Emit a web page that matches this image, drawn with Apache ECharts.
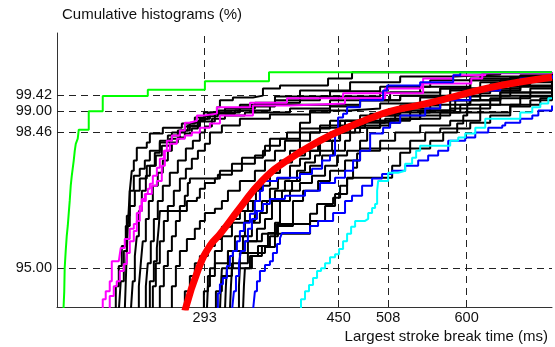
<!DOCTYPE html>
<html>
<head>
<meta charset="utf-8">
<script src="https://cdn.jsdelivr.net/npm/echarts@6/dist/echarts.min.js"></script>
<style>
  html, body { margin: 0; padding: 0; background: #fff; }
  #chart { width: 555px; height: 347px; }
</style>
</head>
<body>
<div id="chart"></div>
<script>
// tick values shown on the axes (dashed guide lines go through them too)
const xTicks = [293, 450, 508, 600]
const yTicks = [95.0, 98.46, 99.0, 99.42]

// [break time (ms), cumulative %]
const green = [[127.5,93.9],[128.5,94.4],[129.0,94.99],[130.2,95.43],[131.4,95.81],[132.6,96.07],[133.7,96.38],[134.9,96.71],[136.1,97.1],[137.3,97.35],[139.6,97.74],[140.8,97.99],[142.0,98.17],[144.3,98.3],[145.5,98.53],[157.2,99.0],[173.6,99.39],[226.4,99.55],[293.3,99.77],[368.4,100],[700,100]]

const red = [[269.8,93.9],[286.2,95.0],[299.1,95.56],[310.9,95.86],[334.3,96.53],[360.1,97.22],[389.4,97.74],[428.2,98.25],[459.8,98.58],[486.9,98.82],[510.3,99.0],[543.2,99.15],[583.1,99.36],[621.8,99.58],[660.5,99.74],[700,99.87]]

const cyan = [[402.4,93.9],[405.9,94.2],[410.6,94.4],[415.3,94.56],[420.0,94.74],[424.7,94.92],[429.4,94.99],[434.1,95.12],[439.9,95.27],[445.8,95.35],[450.5,95.48],[455.2,95.68],[459.9,95.87],[464.6,96.05],[469.3,96.2],[481.0,96.25],[484.6,96.4],[489.2,96.53],[492.7,96.63],[495.1,96.97],[496.3,97.22],[508.0,97.43],[519.7,97.48],[527.9,97.66],[536.1,97.81],[540.8,97.99],[545.5,98.12],[580.7,98.25],[590.1,98.33],[598.3,98.43],[610.1,98.58],[621.8,98.81],[648.8,98.81],[662.8,98.97],[676.9,99.1],[686.3,99.2],[695.7,99.33],[700,99.33]]

const magenta1 = [[170.1,93.9],[173.6,94.2],[177.1,94.4],[181.8,94.66],[184.2,95.17],[192.4,95.22],[194.7,95.51],[199.4,95.74],[205.3,96.0],[210.0,96.12],[213.5,96.4],[217.0,96.58],[219.4,96.76],[222.9,96.89],[226.4,97.02],[228.8,97.15],[232.3,97.35],[237.0,97.56],[240.5,97.79],[245.2,97.99],[248.7,98.25],[254.6,98.38],[264.0,98.51],[269.8,98.71],[275.7,98.76],[283.9,98.89],[292.1,98.94],[307.4,99.1],[346.1,99.22],[389.5,99.33],[455.2,99.46],[549.0,99.84],[584.2,99.92],[621.8,100],[700,100]]
const magenta2 = [[178.3,93.9],[181.8,94.28],[186.5,94.53],[190.0,94.66],[193.6,94.92],[198.3,95.1],[201.8,95.38],[205.3,95.68],[210.0,95.94],[213.5,96.2],[217.0,96.45],[219.4,96.71],[224.1,96.89],[231.1,97.1],[237.0,97.22],[242.8,97.61],[246.4,97.99],[252.2,98.17],[260.4,98.3],[269.8,98.38],[278.0,98.46],[287.4,98.58],[299.2,98.69],[310.9,98.89],[349.6,99.15],[393.0,99.2],[457.5,99.33],[504.5,99.58],[546.7,99.71],[605.4,99.84],[618.3,99.97],[700,100]]

const blue1 = [[349.6,93.9],[351.9,94.4],[354.3,94.66],[357.8,94.92],[363.7,95.07],[369.5,95.17],[373.0,95.38],[377.8,95.61],[381.3,95.76],[383.6,95.89],[414.1,95.89],[416.5,96.07],[425.9,96.2],[443.5,96.4],[457.5,96.71],[465.7,96.84],[477.5,97.1],[489.2,97.28],[500.9,97.4],[512.7,97.48],[527.9,97.61],[543.2,97.74],[554.9,97.87],[566.6,97.99],[578.4,98.25],[598.3,98.33],[610.1,98.46],[625.3,98.58],[641.7,98.64],[645.2,98.71],[662.8,98.81],[676.9,98.89],[684.0,99.02],[700,99.15]]
const blue2 = [[305.0,93.9],[308.5,94.35],[310.9,94.58],[314.4,94.74],[319.1,95.05],[322.6,95.3],[326.1,95.43],[330.8,95.68],[334.3,95.94],[339.0,96.15],[346.1,96.38],[351.9,96.71],[357.8,96.97],[361.3,97.22],[377.8,97.3],[404.7,97.4],[418.8,97.53],[430.6,97.74],[439.9,97.87],[445.8,98.51],[449.3,98.84],[455.2,98.94],[459.9,99.1],[475.1,99.28],[502.1,99.53],[506.8,99.66],[545.5,99.74],[584.2,99.92],[592.5,100],[700,100]]
const blue3 = [[325.0,93.9],[327.3,94.4],[329.7,94.79],[333.2,95.12],[335.5,95.43],[340.2,95.68],[343.7,96.0],[348.4,96.25],[354.3,96.45],[361.3,96.63],[369.5,96.76],[387.1,96.84],[410.6,96.97],[428.2,97.17],[445.8,97.3],[457.5,97.48],[466.9,97.74],[475.1,97.99],[486.9,98.43],[502.1,98.58],[510.3,98.71],[522.1,98.89],[551.4,99.07],[569.0,99.28],[604.2,99.53],[639.4,99.69],[662.8,99.84],[700,99.92]]

const blackRuns = [
  [[199.4,93.9],[200.6,94.66],[201.8,95.43],[203.0,96.07],[205.3,96.97],[207.6,97.48],[210.0,97.74],[213.5,98.07],[225.2,98.2],[228.8,98.43],[244.0,98.58],[266.3,98.69],[281.5,98.84],[292.1,98.97],[334.3,99.17],[375.4,99.38],[404.7,99.53],[463.4,99.74],[522.1,99.89],[586.6,99.94],[639.4,100],[700,100]],
  [[185.4,93.9],[188.9,94.53],[192.4,95.05],[195.9,95.56],[200.6,96.07],[205.3,96.58],[211.2,96.97],[217.0,97.28],[225.2,97.61],[234.6,97.94],[240.5,98.2],[249.9,98.38],[261.6,98.51],[273.3,98.64],[287.4,98.81],[299.2,98.97],[316.8,99.07],[351.9,99.22],[404.7,99.38],[439.9,99.51],[498.6,99.63],[557.3,99.79],[615.9,99.89],[700,99.97]],
  [[192.4,93.9],[194.7,94.66],[198.3,95.43],[201.8,96.33],[205.3,96.97],[210.0,97.35],[217.0,97.53],[222.9,97.74],[228.8,97.99],[240.5,98.25],[254.6,98.46],[269.8,98.61],[287.4,98.74],[305.0,98.94],[328.5,99.02],[369.5,99.17],[439.9,99.28],[510.3,99.48],[569.0,99.58],[604.2,99.79],[662.8,99.92],[700,100]],
  [[213.5,93.9],[215.9,94.53],[218.2,95.12],[220.5,95.68],[224.1,96.25],[227.6,96.71],[232.3,97.1],[238.1,97.43],[244.0,97.74],[249.9,97.99],[254.6,98.2],[261.6,98.33],[269.8,98.43],[278.0,98.56],[285.1,98.76],[293.3,98.87],[308.5,99.02],[334.3,99.12],[375.4,99.28],[428.2,99.38],[498.6,99.48],[545.5,99.63],[604.2,99.84],[700,99.94]],
  [[206.5,93.9],[208.8,94.66],[211.2,95.3],[213.5,95.81],[215.9,96.45],[219.4,96.97],[224.1,97.35],[228.8,97.61],[235.8,97.87],[242.8,98.12],[252.2,98.3],[264.0,98.51],[275.7,98.71],[287.4,98.81],[296.8,98.94],[307.4,99.1],[310.9,99.28],[326.1,99.35],[349.6,99.4],[361.3,99.58],[381.3,99.66],[437.6,99.84],[465.7,100],[700,100]],
  [[221.7,93.9],[224.1,94.53],[226.4,95.12],[229.9,95.68],[233.5,96.25],[238.1,96.71],[244.0,97.1],[252.2,97.43],[261.6,97.74],[271.0,98.05],[279.2,98.25],[287.4,98.46],[293.3,98.61],[301.5,98.81],[316.8,98.89],[340.2,98.97],[393.0,99.07],[439.9,99.17],[475.1,99.28],[522.1,99.4],[569.0,99.58],[615.9,99.74],[651.1,99.87],[700,99.94]],
  [[229.9,93.9],[232.3,94.53],[235.8,95.12],[240.5,95.68],[245.2,96.2],[249.9,96.58],[256.9,96.97],[264.0,97.28],[271.0,97.53],[278.0,97.79],[285.1,97.99],[293.3,98.17],[299.2,98.46],[313.2,98.64],[334.3,98.81],[369.5,98.92],[416.5,99.02],[463.4,99.07],[498.6,99.2],[545.5,99.35],[580.7,99.53],[627.6,99.69],[674.6,99.82],[700,99.89]],
  [[225.2,93.9],[228.8,94.66],[233.5,95.17],[237.0,95.51],[239.3,96.07],[240.5,96.45],[272.2,96.71],[283.9,96.79],[287.4,97.02],[293.3,97.17],[305.0,97.28],[310.9,97.48],[336.7,97.81],[361.3,97.99],[369.5,98.3],[389.5,98.46],[404.7,98.71],[416.5,98.97],[439.9,99.12],[475.1,99.28],[522.1,99.4],[580.7,99.58],[639.4,99.79],[700,99.94]],
  [[248.7,93.9],[254.6,94.53],[259.3,95.05],[264.0,95.43],[272.2,95.74],[281.5,96.0],[287.4,96.2],[293.3,96.4],[305.0,96.51],[313.2,96.71],[320.3,96.97],[334.3,97.22],[351.9,97.48],[363.7,97.74],[375.4,97.99],[387.1,98.25],[404.7,98.46],[428.2,98.64],[457.5,98.76],[498.6,98.89],[533.8,99.07],[569.0,99.28],[615.9,99.53],[662.8,99.74],[700,99.84]],
  [[264.0,93.9],[269.8,94.4],[275.7,94.79],[281.5,95.12],[287.4,95.3],[296.8,95.56],[305.0,95.74],[313.2,96.05],[325.0,96.25],[334.3,96.45],[343.7,96.71],[353.1,96.97],[360.1,97.22],[369.5,97.43],[381.3,97.69],[395.4,97.87],[410.6,97.99],[425.9,98.25],[445.8,98.46],[475.1,98.64],[510.3,98.81],[545.5,98.97],[592.5,99.17],[639.4,99.4],[700,99.66]],
  [[237.0,93.9],[240.5,94.53],[245.2,95.05],[249.9,95.43],[254.6,95.81],[259.3,96.2],[264.0,96.58],[269.8,96.84],[273.3,97.17],[275.7,97.28],[308.5,97.38],[325.0,97.66],[351.9,97.87],[363.7,98.12],[381.3,98.3],[404.7,98.56],[439.9,98.76],[475.1,98.89],[522.1,99.02],[580.7,99.28],[639.4,99.48],[700,99.63]],
  [[295.6,93.9],[296.8,94.53],[299.2,94.99],[305.0,95.43],[313.2,95.81],[325.0,96.15],[340.2,96.45],[349.6,96.71],[357.8,97.1],[369.5,97.43],[381.3,97.74],[393.0,97.99],[404.7,98.25],[416.5,98.46],[428.2,98.58],[451.7,98.76],[486.9,98.94],[522.1,99.15],[569.0,99.38],[615.9,99.58],[662.8,99.79],[700,99.89]],
  [[310.9,93.9],[312.1,94.53],[313.2,94.99],[320.3,95.43],[328.5,95.81],[340.2,96.2],[351.9,96.45],[360.1,96.71],[369.5,97.02],[378.9,97.28],[393.0,97.61],[404.7,97.79],[416.5,97.99],[428.2,98.25],[439.9,98.46],[457.5,98.64],[481.0,98.76],[516.2,98.97],[557.3,99.17],[604.2,99.4],[651.1,99.63],[700,99.79]],
  [[316.8,93.9],[317.9,94.53],[319.1,94.99],[326.1,95.43],[337.9,95.81],[348.4,96.15],[357.8,96.4],[366.0,96.71],[375.4,96.97],[387.1,97.22],[401.2,97.48],[410.6,97.69],[422.3,97.87],[428.2,97.99],[442.3,98.25],[451.7,98.46],[469.3,98.58],[498.6,98.76],[533.8,98.89],[580.7,99.07],[627.6,99.33],[674.6,99.58],[700,99.69]],
  [[322.6,93.9],[323.8,94.53],[325.0,94.99],[334.3,95.38],[343.7,95.68],[354.3,96.0],[363.7,96.25],[371.9,96.71],[383.6,96.97],[395.4,97.22],[404.7,97.43],[416.5,97.61],[430.6,97.87],[443.5,97.99],[457.5,98.25],[463.4,98.58],[481.0,98.71],[504.5,98.81],[545.5,99.02],[586.6,99.28],[639.4,99.48],[700,99.63]],
  [[330.8,93.9],[333.2,94.53],[334.3,94.99],[346.1,95.3],[355.5,95.56],[367.2,95.89],[375.4,96.15],[381.3,96.71],[393.0,96.97],[404.7,97.17],[418.8,97.35],[434.1,97.61],[448.2,97.87],[459.9,97.99],[475.1,98.25],[483.4,98.58],[498.6,98.71],[522.1,98.81],[569.0,98.97],[615.9,99.17],[662.8,99.38],[700,99.53]],
  [[337.9,93.9],[339.0,94.53],[340.2,94.99],[348.4,95.3],[360.1,95.56],[369.5,95.81],[378.9,96.07],[396.5,96.71],[408.3,96.97],[425.9,97.22],[439.9,97.48],[457.5,97.74],[475.1,97.99],[498.6,98.25],[516.2,98.46],[545.5,98.64],[580.7,98.76],[615.9,98.97],[651.1,99.17],[686.3,99.33],[700,99.38]],
  [[287.4,93.9],[292.1,94.4],[296.8,94.79],[305.0,95.12],[320.3,95.43],[340.2,95.68],[360.1,95.87],[377.8,96.12],[416.5,96.38],[424.7,96.63],[443.5,96.79],[451.7,97.1],[459.9,97.28],[466.9,97.56],[471.6,97.92],[475.1,98.05],[557.3,98.25],[572.5,98.46],[588.9,98.69],[596.0,98.89],[600.7,99.2],[604.2,99.46],[627.6,99.53],[662.8,99.66],[700,99.79]],
  [[301.5,93.9],[306.2,94.4],[313.2,94.79],[325.0,95.12],[343.7,95.38],[363.7,95.53],[375.4,95.87],[416.5,96.2],[434.1,96.58],[445.8,96.89],[459.9,97.3],[512.7,97.61],[522.1,97.94],[533.8,98.25],[551.4,98.46],[569.0,98.56],[604.2,98.71],[627.6,98.89],[651.1,99.12],[674.6,99.28],[700,99.38]]
]

const font = 'Liberation Sans, Arial, Helvetica, sans-serif'

function stairs(data, color, width, z) {
  return {
    type: 'line',
    data,
    step: 'end',
    symbol: 'none',
    silent: true,
    z,
    lineStyle: { color, width },
    emphasis: { disabled: true },
  }
}

const series = blackRuns.map((run) => stairs(run, '#000000', 2, 2))
series.push(stairs(magenta1, '#ff00ff', 2, 3))
series.push(stairs(magenta2, '#ff00ff', 2, 3))
series.push(stairs(blue1, '#0000ff', 2, 3))
series.push(stairs(blue2, '#0000ff', 2, 3))
series.push(stairs(blue3, '#0000ff', 2, 3))
series.push(stairs(cyan, '#00ffff', 2, 3))
series.push(stairs(green, '#00ff00', 2, 4))
series.push({
  type: 'line',
  data: red,
  smooth: true,
  symbol: 'none',
  silent: true,
  z: 5,
  lineStyle: { color: '#ff0000', width: 7 },
  emphasis: { disabled: true },
})

// dashed guides at the tick values
series[0].markLine = {
  silent: true,
  symbol: 'none',
  z: 1,
  label: { show: false },
  lineStyle: { type: [7, 5], color: '#222', width: 1 },
  data: [
    ...xTicks.map((v) => ({ xAxis: v })),
    ...yTicks.map((v) => ({ yAxis: v })),
  ],
}

const chart = echarts.init(document.getElementById('chart'))
chart.setOption({
  animation: false,
  backgroundColor: '#fff',
  title: {
    text: 'Cumulative histograms (%)',
    left: 62,
    top: 7,
    padding: 0,
    textStyle: { fontSize: 15, fontWeight: 'normal', color: '#111', fontFamily: font },
  },
  grid: { left: 57, right: 3, top: 33, bottom: 40, outerBoundsMode: 'none' },
  xAxis: {
    type: 'value',
    min: 120,
    max: 700,
    axisLine: { show: true, lineStyle: { color: '#333', width: 1 } },
    axisTick: { show: false },
    splitLine: { show: false },
    axisLabel: { customValues: xTicks, margin: 3, color: '#111', fontSize: 14.5, fontFamily: font },
    name: 'Largest stroke break time (ms)',
    nameLocation: 'end',
    nameGap: -4,
    nameTextStyle: {
      align: 'right',
      verticalAlign: 'top',
      padding: [22, 0, 0, 0],
      color: '#111',
      fontSize: 15,
      fontFamily: font,
    },
  },
  yAxis: {
    type: 'value',
    min: 94,
    max: 101,
    axisLine: { show: true, lineStyle: { color: '#333', width: 1 } },
    axisTick: { show: false },
    splitLine: { show: false },
    axisLabel: {
      customValues: yTicks,
      formatter: (v) => v.toFixed(2),
      margin: 5,
      color: '#111',
      fontSize: 14.5,
      fontFamily: font,
    },
  },
  series,
})
</script>
</body>
</html>
